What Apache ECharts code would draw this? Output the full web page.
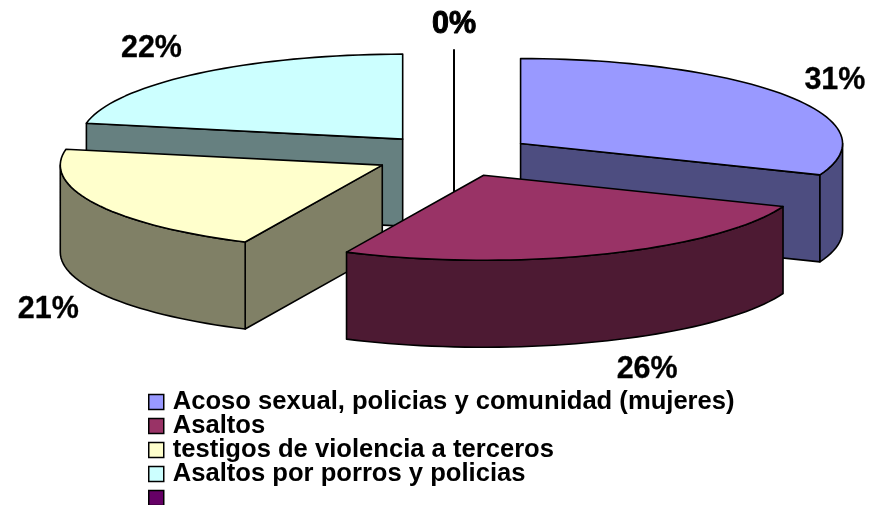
<!DOCTYPE html>
<html><head><meta charset="utf-8">
<style>html,body{margin:0;padding:0;background:#fff}#c{width:877px;height:505px}</style>
<script src="https://cdn.jsdelivr.net/npm/echarts@6/dist/echarts.min.js"></script>
</head><body><div id="c"></div>
<script>
const categories = ['Acoso sexual, policias y comunidad (mujeres)', 'Asaltos', 'testigos de violencia a terceros', 'Asaltos por porros y policias', ' '];
const values = [31, 26, 21, 22, 0];
const topColors = ['#9999FF', '#993366', '#FFFFCC', '#CCFFFF', '#660066'];
const sideColors = ['#4D4D80', '#4D1A33', '#808066', '#668080', '#330033'];
const drawOrder = [3, 4, 0, 2, 1];
const labelNudge = [[48, -15.5], [45, 115.5], [-47, 105.5], [-46, -25], [0, -25]];

const CX = 454, CY = 155.5, RX = 322, RY = 85, DEPTH = 87, EXPLODE = 0.25;
const total = values.reduce((a, b) => a + b, 0);
const rad = d => d * Math.PI / 180;
const onEllipse = (ox, oy, deg) => [ox + RX * Math.sin(rad(deg)), oy - RY * Math.cos(rad(deg))];
const stroke = { stroke: '#000', lineWidth: 1.6, lineJoin: 'round' };

function rimPoints(ox, oy, a, b) {
  const pts = [];
  const n = Math.max(1, Math.ceil((b - a) / 2));
  for (let i = 0; i <= n; i++) pts.push(onEllipse(ox, oy, a + (b - a) * i / n));
  return pts;
}
function shift(pts) { return pts.map(p => [p[0], p[1] + DEPTH]); }

function renderSlice(idx) {
  return function (params, api) {
    const v = api.value(0);
    let before = 0;
    for (let i = 0; i < idx; i++) before += values[i];
    const a0 = before / total * 360, a1 = a0 + v / total * 360;
    const mid = v === 0 ? a0 : (a0 + a1) / 2;
    const ox = CX + EXPLODE * RX * Math.sin(rad(mid));
    const oy = CY - EXPLODE * RY * Math.cos(rad(mid));
    const lp = onEllipse(ox, oy, mid);
    const label = {
      type: 'text', silent: true, z2: 50,
      style: {
        text: v + '%', x: lp[0] + labelNudge[idx][0], y: lp[1] + labelNudge[idx][1],
        align: 'center', verticalAlign: 'middle', fill: '#000',
        stroke: '#000', lineWidth: v === 0 ? 1 : 0.3,
        font: 'bold 30.5px "Liberation Sans", Arial, sans-serif'
      }
    };
    const kids = [];
    if (v === 0) {
      const p = onEllipse(ox, oy, a0);
      kids.push({ type: 'polyline', shape: { points: [p, [ox, oy], [ox, oy + DEPTH]] },
        style: { stroke: '#000', lineWidth: 2, fill: null } });
      kids.push(label);
      return { type: 'group', children: kids };
    }
    const face = pts => ({ type: 'polygon', shape: { points: pts }, style: Object.assign({ fill: sideColors[idx] }, stroke) });
    if (Math.sin(rad(a0)) < 0) {
      const e = onEllipse(ox, oy, a0);
      kids.push(face([[ox, oy], e, [e[0], e[1] + DEPTH], [ox, oy + DEPTH]]));
    }
    if (Math.sin(rad(a1)) > 0.0001) {
      const e = onEllipse(ox, oy, a1);
      kids.push(face([[ox, oy], e, [e[0], e[1] + DEPTH], [ox, oy + DEPTH]]));
    }
    const fa = Math.max(a0, 90), fb = Math.min(a1, 270);
    if (fb > fa) {
      const r = rimPoints(ox, oy, fa, fb);
      kids.push(face(r.concat(shift(r).reverse())));
    }
    kids.push({ type: 'polygon',
      shape: { points: [[ox, oy]].concat(rimPoints(ox, oy, a0, a1)) },
      style: Object.assign({ fill: topColors[idx] }, stroke) });
    kids.push(label);
    return { type: 'group', children: kids };
  };
}

const series = drawOrder.map((idx, order) => ({
  type: 'custom', name: categories[idx], coordinateSystem: 'none', silent: true,
  z: 2 + order, itemStyle: { color: topColors[idx] },
  renderItem: renderSlice(idx), data: [[values[idx]]]
}));

const chart = echarts.init(document.getElementById('c'), null, { renderer: 'canvas' });
chart.setOption({
  animation: false, backgroundColor: '#fff',
  legend: {
    orient: 'vertical', left: 148, top: 389, height: 140, padding: 0, itemGap: -2,
    itemWidth: 15, itemHeight: 15, icon: 'rect', selectedMode: false,
    data: categories,
    itemStyle: { borderColor: '#000', borderWidth: 1.5 },
    textStyle: { color: '#000', fontWeight: 'bold', fontSize: 25.6, lineHeight: 24,
      fontFamily: '"Liberation Sans", Arial, sans-serif', padding: [0, 0, 0, 4] }
  },
  series
});
</script></body></html>
